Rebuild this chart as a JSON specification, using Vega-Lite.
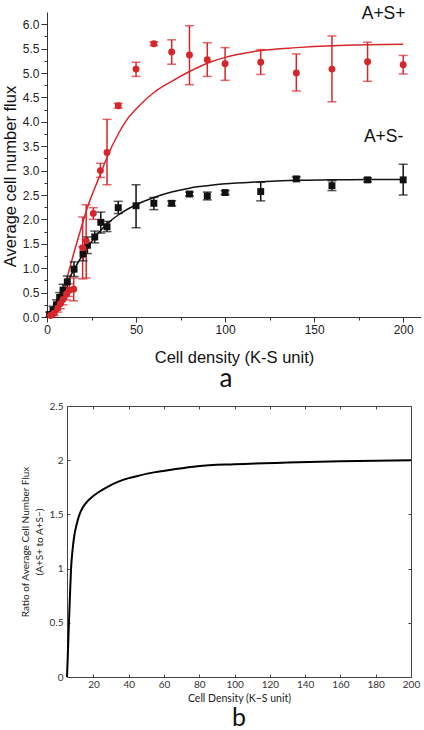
{
  "$schema": "https://vega.github.io/schema/vega-lite/v6.json",
  "padding": {"left": 2, "top": 5, "right": 0, "bottom": 0},
  "background": "white",
  "spacing": 9,
  "config": {"view": {"stroke": null}, "axis": {"grid": false}},
  "datasets": {
    "points": [
      {"series": "A+S-", "x": 1.5, "y": 0.05, "lo": 0.0, "hi": 0.1},
      {"series": "A+S-", "x": 3.4, "y": 0.14, "lo": 0.06, "hi": 0.22},
      {"series": "A+S-", "x": 5.3, "y": 0.25, "lo": 0.15, "hi": 0.35},
      {"series": "A+S-", "x": 7.1, "y": 0.4, "lo": 0.3, "hi": 0.5},
      {"series": "A+S-", "x": 9, "y": 0.55, "lo": 0.43, "hi": 0.67},
      {"series": "A+S-", "x": 11.4, "y": 0.72, "lo": 0.6, "hi": 0.84},
      {"series": "A+S-", "x": 15.2, "y": 0.98, "lo": 0.83, "hi": 1.13},
      {"series": "A+S-", "x": 20.2, "y": 1.29, "lo": 1.15, "hi": 1.44},
      {"series": "A+S-", "x": 22.7, "y": 1.47, "lo": 1.3, "hi": 1.64},
      {"series": "A+S-", "x": 26.8, "y": 1.64, "lo": 1.52, "hi": 1.76},
      {"series": "A+S-", "x": 30.2, "y": 1.94, "lo": 1.72, "hi": 2.15},
      {"series": "A+S-", "x": 33.7, "y": 1.85, "lo": 1.75, "hi": 1.96},
      {"series": "A+S-", "x": 40, "y": 2.24, "lo": 2.12, "hi": 2.37},
      {"series": "A+S-", "x": 50, "y": 2.28, "lo": 1.83, "hi": 2.71},
      {"series": "A+S-", "x": 60, "y": 2.33, "lo": 2.2, "hi": 2.45},
      {"series": "A+S-", "x": 70, "y": 2.33, "lo": 2.28, "hi": 2.38},
      {"series": "A+S-", "x": 80, "y": 2.52, "lo": 2.48, "hi": 2.56},
      {"series": "A+S-", "x": 90, "y": 2.48, "lo": 2.4, "hi": 2.56},
      {"series": "A+S-", "x": 100, "y": 2.55, "lo": 2.51, "hi": 2.59},
      {"series": "A+S-", "x": 120, "y": 2.57, "lo": 2.38, "hi": 2.76},
      {"series": "A+S-", "x": 140, "y": 2.83, "lo": 2.79, "hi": 2.87},
      {"series": "A+S-", "x": 160, "y": 2.69, "lo": 2.59, "hi": 2.79},
      {"series": "A+S-", "x": 180, "y": 2.81, "lo": 2.77, "hi": 2.85},
      {"series": "A+S-", "x": 200, "y": 2.81, "lo": 2.5, "hi": 3.13},
      {"series": "A+S+", "x": 2, "y": 0.03, "lo": 0.0, "hi": 0.06},
      {"series": "A+S+", "x": 4, "y": 0.08, "lo": 0.03, "hi": 0.13},
      {"series": "A+S+", "x": 6, "y": 0.18, "lo": 0.1, "hi": 0.26},
      {"series": "A+S+", "x": 7.5, "y": 0.27, "lo": 0.17, "hi": 0.37},
      {"series": "A+S+", "x": 9, "y": 0.36, "lo": 0.25, "hi": 0.47},
      {"series": "A+S+", "x": 11, "y": 0.47, "lo": 0.35, "hi": 0.6},
      {"series": "A+S+", "x": 12.5, "y": 0.55, "lo": 0.42, "hi": 0.68},
      {"series": "A+S+", "x": 15, "y": 0.57, "lo": 0.33, "hi": 0.8},
      {"series": "A+S+", "x": 20, "y": 1.42, "lo": 0.78, "hi": 2.05},
      {"series": "A+S+", "x": 22, "y": 1.56, "lo": 0.8, "hi": 2.3},
      {"series": "A+S+", "x": 26, "y": 2.12, "lo": 2.0, "hi": 2.24},
      {"series": "A+S+", "x": 30, "y": 3.0, "lo": 2.86, "hi": 3.15},
      {"series": "A+S+", "x": 33.7, "y": 3.37, "lo": 2.71, "hi": 4.05},
      {"series": "A+S+", "x": 40, "y": 4.33, "lo": 4.28, "hi": 4.38},
      {"series": "A+S+", "x": 50, "y": 5.08, "lo": 4.93, "hi": 5.22},
      {"series": "A+S+", "x": 60, "y": 5.6, "lo": 5.56, "hi": 5.64},
      {"series": "A+S+", "x": 70, "y": 5.43, "lo": 5.18, "hi": 5.68},
      {"series": "A+S+", "x": 80, "y": 5.37, "lo": 4.76, "hi": 5.97},
      {"series": "A+S+", "x": 90, "y": 5.27, "lo": 4.93, "hi": 5.62},
      {"series": "A+S+", "x": 100, "y": 5.19, "lo": 4.85, "hi": 5.52},
      {"series": "A+S+", "x": 120, "y": 5.22, "lo": 4.97, "hi": 5.48},
      {"series": "A+S+", "x": 140, "y": 5.0, "lo": 4.63, "hi": 5.39},
      {"series": "A+S+", "x": 160, "y": 5.08, "lo": 4.41, "hi": 5.76},
      {"series": "A+S+", "x": 180, "y": 5.23, "lo": 4.83, "hi": 5.63},
      {"series": "A+S+", "x": 200, "y": 5.17, "lo": 4.98, "hi": 5.36}
    ],
    "curves": [
      {"series": "A+S-", "x": 0, "y": 0},
      {"series": "A+S-", "x": 5, "y": 0.28},
      {"series": "A+S-", "x": 10, "y": 0.62},
      {"series": "A+S-", "x": 15, "y": 0.96},
      {"series": "A+S-", "x": 20, "y": 1.27},
      {"series": "A+S-", "x": 25, "y": 1.54},
      {"series": "A+S-", "x": 30, "y": 1.77},
      {"series": "A+S-", "x": 35, "y": 1.95},
      {"series": "A+S-", "x": 40, "y": 2.09},
      {"series": "A+S-", "x": 50, "y": 2.3},
      {"series": "A+S-", "x": 60, "y": 2.45},
      {"series": "A+S-", "x": 70, "y": 2.56},
      {"series": "A+S-", "x": 80, "y": 2.64},
      {"series": "A+S-", "x": 90, "y": 2.69},
      {"series": "A+S-", "x": 100, "y": 2.73},
      {"series": "A+S-", "x": 120, "y": 2.77},
      {"series": "A+S-", "x": 140, "y": 2.8},
      {"series": "A+S-", "x": 160, "y": 2.81},
      {"series": "A+S-", "x": 180, "y": 2.82},
      {"series": "A+S-", "x": 200, "y": 2.82},
      {"series": "A+S+", "x": 4, "y": 0},
      {"series": "A+S+", "x": 6, "y": 0.15},
      {"series": "A+S+", "x": 9, "y": 0.5},
      {"series": "A+S+", "x": 12, "y": 0.9},
      {"series": "A+S+", "x": 15, "y": 1.3},
      {"series": "A+S+", "x": 18, "y": 1.68},
      {"series": "A+S+", "x": 21, "y": 2.05},
      {"series": "A+S+", "x": 24, "y": 2.38},
      {"series": "A+S+", "x": 27, "y": 2.66},
      {"series": "A+S+", "x": 30, "y": 2.93},
      {"series": "A+S+", "x": 34, "y": 3.3},
      {"series": "A+S+", "x": 40, "y": 3.75},
      {"series": "A+S+", "x": 45, "y": 4.05},
      {"series": "A+S+", "x": 51, "y": 4.3},
      {"series": "A+S+", "x": 60, "y": 4.6},
      {"series": "A+S+", "x": 70, "y": 4.83},
      {"series": "A+S+", "x": 80, "y": 5.03},
      {"series": "A+S+", "x": 90, "y": 5.2},
      {"series": "A+S+", "x": 100, "y": 5.32},
      {"series": "A+S+", "x": 120, "y": 5.46},
      {"series": "A+S+", "x": 140, "y": 5.52},
      {"series": "A+S+", "x": 160, "y": 5.56},
      {"series": "A+S+", "x": 180, "y": 5.58},
      {"series": "A+S+", "x": 200, "y": 5.59}
    ],
    "ratio": [
      {"x": 5, "y": 0},
      {"x": 5.5, "y": 0.22},
      {"x": 6.1, "y": 0.5},
      {"x": 6.7, "y": 0.76},
      {"x": 7.3, "y": 1.0},
      {"x": 8.2, "y": 1.18},
      {"x": 9.2, "y": 1.31},
      {"x": 10.5, "y": 1.41},
      {"x": 12.1, "y": 1.5},
      {"x": 14, "y": 1.565},
      {"x": 16.8, "y": 1.625},
      {"x": 19.5, "y": 1.665},
      {"x": 22.4, "y": 1.7},
      {"x": 28, "y": 1.755},
      {"x": 33.8, "y": 1.8},
      {"x": 40, "y": 1.835},
      {"x": 45, "y": 1.855},
      {"x": 55, "y": 1.89},
      {"x": 65, "y": 1.915},
      {"x": 79, "y": 1.945},
      {"x": 100, "y": 1.963},
      {"x": 130, "y": 1.978},
      {"x": 160, "y": 1.99},
      {"x": 200, "y": 2.0}
    ],
    "labels": [
      {"label": "A+S+", "x": 189, "y": 6.2},
      {"label": "A+S-", "x": 189, "y": 3.68}
    ]
  },
  "vconcat": [
    {
      "width": 374,
      "height": 305,
      "title": {"text": "a", "orient": "bottom", "fontSize": 26, "font": "Lato", "fontWeight": "normal", "color": "#111", "offset": 0, "anchor": "middle", "frame": "group", "dx": -8},
      "encoding": {
        "x": {"field": "x", "type": "quantitative",
          "scale": {"domain": [0, 210], "nice": false, "zero": false},
          "axis": {"values": [0, 25, 50, 75, 100, 125, 150, 175, 200],
            "labelExpr": "datum.value % 50 === 0 ? datum.label : ''",
            "tickSize": {"condition": {"test": "datum.value % 50 !== 0", "value": 3}, "value": 5},
            "title": "Cell density (K-S unit)", "titleFontSize": 16.5, "titleFontWeight": "normal", "titleFont": "Liberation Sans", "titleColor": "#111",
            "labelFont": "Liberation Sans", "labelFontSize": 12, "labelColor": "#222", "labelPadding": 2, "titlePadding": 14,
            "labelOverlap": false, "labelFlush": false, "domainColor": "#333", "tickColor": "#333"}},
        "y": {"field": "y", "type": "quantitative",
          "scale": {"domain": [0, 6.25], "nice": false, "zero": false},
          "axis": {"values": [0, 0.25, 0.5, 0.75, 1, 1.25, 1.5, 1.75, 2, 2.25, 2.5, 2.75, 3, 3.25, 3.5, 3.75, 4, 4.25, 4.5, 4.75, 5, 5.25, 5.5, 5.75, 6],
            "labelExpr": "datum.value % 0.5 === 0 ? format(datum.value, '.1f') : ''",
            "tickSize": {"condition": {"test": "datum.value % 0.5 !== 0", "value": 3}, "value": 6},
            "title": "Average cell number flux", "titleFontSize": 16.5, "titleFontWeight": "normal", "titleFont": "Liberation Sans", "titleColor": "#111",
            "titleY": 164, "titlePadding": 4,
            "labelFont": "Liberation Sans", "labelFontSize": 12, "labelColor": "#222", "labelPadding": 2,
            "labelOverlap": false, "labelFlush": false, "domainColor": "#333", "tickColor": "#333"}}
      },
      "layer": [
        {"data": {"name": "curves"},
          "mark": {"type": "line", "strokeWidth": 1.5, "interpolate": "monotone"},
          "encoding": {"color": {"field": "series", "type": "nominal", "scale": {"domain": ["A+S+", "A+S-"], "range": ["#d7262b", "#111111"]}, "legend": null}}},
        {"data": {"name": "points"},
          "mark": {"type": "rule", "strokeWidth": 1.5},
          "encoding": {"y": {"field": "lo", "type": "quantitative"}, "y2": {"field": "hi"},
            "color": {"field": "series", "type": "nominal", "legend": null}}},
        {"data": {"name": "points"},
          "mark": {"type": "tick", "orient": "horizontal", "size": 9, "thickness": 1.5},
          "encoding": {"y": {"field": "lo", "type": "quantitative"},
            "color": {"field": "series", "type": "nominal", "legend": null}}},
        {"data": {"name": "points"},
          "mark": {"type": "tick", "orient": "horizontal", "size": 9, "thickness": 1.5},
          "encoding": {"y": {"field": "hi", "type": "quantitative"},
            "color": {"field": "series", "type": "nominal", "legend": null}}},
        {"data": {"name": "points"},
          "mark": {"type": "point", "filled": true, "opacity": 1, "size": 48},
          "encoding": {
            "color": {"field": "series", "type": "nominal", "legend": null},
            "shape": {"field": "series", "type": "nominal", "scale": {"domain": ["A+S+", "A+S-"], "range": ["circle", "square"]}, "legend": null}}},
        {"data": {"name": "labels"},
          "mark": {"type": "text", "fontSize": 17.5, "font": "Liberation Sans", "color": "#111", "baseline": "middle", "align": "center"},
          "encoding": {"text": {"field": "label"}}}
      ]
    },
    {
      "width": 364,
      "height": 271,
      "title": {"text": "b", "orient": "bottom", "fontSize": 25, "font": "Lato", "fontWeight": "normal", "color": "#111", "offset": 2, "anchor": "middle", "frame": "group", "dx": 10},
      "resolve": {"axis": {"x": "independent", "y": "independent"}},
      "layer": [
        {"data": {"name": "ratio"},
          "mark": {"type": "line", "color": "#000", "strokeWidth": 2, "interpolate": "monotone"},
          "encoding": {
            "x": {"field": "x", "type": "quantitative",
              "scale": {"domain": [5, 200], "range": [20, 364], "nice": false, "zero": false},
              "axis": {"orient": "bottom", "values": [20, 40, 60, 80, 100, 120, 140, 160, 180, 200],
                "tickSize": -3, "labelPadding": 5, "title": "Cell Density (K−S unit)",
                "titleFont": "Lato", "titleFontSize": 10.5, "titleFontWeight": "normal", "titleColor": "#222", "titlePadding": 4,
                "labelFont": "Lato", "labelFontSize": 10, "labelColor": "#333", "labelOverlap": false, "labelFlush": false,
                "domainColor": "#444", "tickColor": "#444"}},
            "y": {"field": "y", "type": "quantitative",
              "scale": {"domain": [0, 2.5], "nice": false, "zero": false},
              "axis": {"orient": "left", "offset": -20, "values": [0, 0.5, 1, 1.5, 2, 2.5],
                "labelExpr": "'' + datum.value", "tickSize": -3, "labelPadding": 7,
                "title": ["Ratio of Average Cell Number Flux", "(A+S+ to A+S−)"],
                "titleFont": "Lato", "titleFontSize": 10, "titleFontWeight": "normal", "titleColor": "#222", "titlePadding": 5, "titleLineHeight": 14,
                "labelFont": "Lato", "labelFontSize": 10, "labelColor": "#333", "labelOverlap": false, "labelFlush": false,
                "domainColor": "#444", "tickColor": "#444"}}
          }},
        {"data": {"name": "ratio"},
          "mark": {"type": "line", "opacity": 0},
          "encoding": {
            "x": {"field": "x", "type": "quantitative",
              "scale": {"domain": [5, 200], "range": [20, 364], "nice": false, "zero": false},
              "axis": {"orient": "top", "values": [20, 40, 60, 80, 100, 120, 140, 160, 180, 200],
                "tickSize": -3, "labels": false, "title": null, "domainColor": "#444", "tickColor": "#444"}},
            "y": {"field": "y", "type": "quantitative",
              "scale": {"domain": [0, 2.5], "nice": false, "zero": false},
              "axis": {"orient": "right", "values": [0, 0.5, 1, 1.5, 2, 2.5],
                "tickSize": -3, "labels": false, "title": null, "domainColor": "#444", "tickColor": "#444"}}
          }}
      ]
    }
  ]
}
